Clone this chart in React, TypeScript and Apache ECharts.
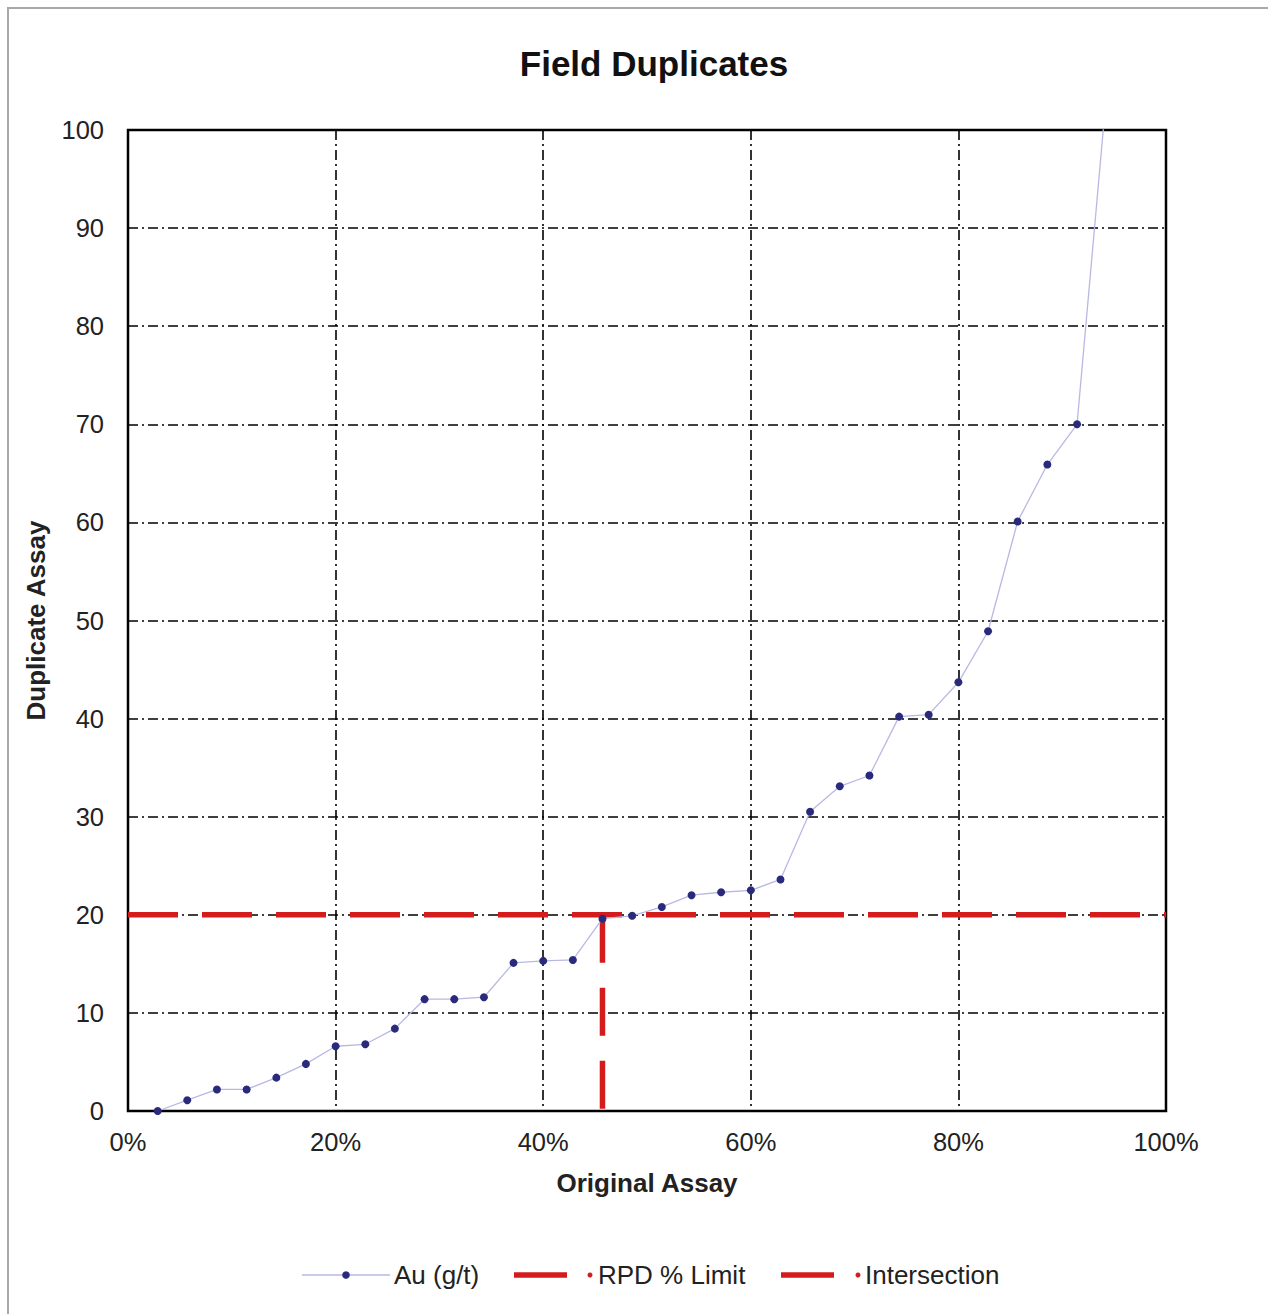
import React, { useEffect, useRef } from "react";
import * as echarts from "echarts";

const titleText = "Field Duplicates";
const xAxisName = "Original Assay";
const yAxisName = "Duplicate Assay";

// Au (g/t) percentile positions (%) and duplicate assay values
const auX = [
  2.86, 5.71, 8.57, 11.43, 14.29, 17.14, 20.0, 22.86, 25.71, 28.57, 31.43,
  34.29, 37.14, 40.0, 42.86, 45.71, 48.57, 51.43, 54.29, 57.14, 60.0, 62.86,
  65.71, 68.57, 71.43, 74.29, 77.14, 80.0, 82.86, 85.71, 88.57, 91.43, 94.29,
];
const auY = [
  0, 1.1, 2.2, 2.2, 3.4, 4.8, 6.6, 6.8, 8.4, 11.4, 11.4, 11.6, 15.1, 15.3,
  15.4, 19.6, 19.9, 20.8, 22.0, 22.3, 22.5, 23.6, 30.5, 33.1, 34.2, 40.2, 40.4,
  43.7, 48.9, 60.1, 65.9, 70.0, 104,
];

// RPD % limit line
const rpdX = [0, 100];
const rpdY = [20, 20];

// Intersection drop line
const interX = [45.71, 45.71];
const interY = [20, 0];

const seriesNames = ["Au (g/t)", "RPD % Limit", "Intersection"];

const FONT = "'Liberation Sans', Arial, sans-serif";
const RED = "#d41c1c";
const AU_LINE = "#b8b8e4";
const AU_DOT = "#2a2a7c";

export default function App() {
  const ref = useRef<HTMLDivElement>(null);

  useEffect(() => {
    document.body.style.margin = "0";
    if (!ref.current) return;
    const chart = echarts.init(ref.current, undefined, { renderer: "svg" });
    const zip = (xs: number[], ys: number[]) => xs.map((x, i) => [x, ys[i]]);

    const ly = 1275;
    const legendText = (x: number, t: string) => ({
      type: "text",
      x,
      y: ly,
      style: {
        text: t,
        fontFamily: FONT,
        fontSize: 26,
        fill: "#222",
        verticalAlign: "middle",
        align: "left",
      },
      silent: true,
    });

    chart.setOption({
      animation: false,
      backgroundColor: "#ffffff",
      textStyle: { fontFamily: FONT },
      title: {
        text: titleText,
        left: 649,
        textAlign: "center",
        top: 41,
        textStyle: {
          fontFamily: FONT,
          fontSize: 35,
          fontWeight: "bold",
          color: "#111",
        },
      },
      graphic: [
        {
          type: "rect",
          shape: { x: 8, y: 8, width: 1300, height: 1400 },
          style: { fill: "none", stroke: "#a8a8a8", lineWidth: 2 },
          silent: true,
          z: -10,
        },
        // legend: Au (g/t)
        {
          type: "line",
          shape: { x1: 302, y1: ly, x2: 390, y2: ly },
          style: { stroke: AU_LINE, lineWidth: 1.5 },
          silent: true,
        },
        {
          type: "circle",
          shape: { cx: 346, cy: ly, r: 3.8 },
          style: { fill: AU_DOT },
          silent: true,
        },
        legendText(394, seriesNames[0]),
        // legend: RPD % Limit
        {
          type: "line",
          shape: { x1: 514, y1: ly, x2: 567, y2: ly },
          style: { stroke: RED, lineWidth: 5.5 },
          silent: true,
        },
        {
          type: "circle",
          shape: { cx: 590, cy: ly, r: 2.5 },
          style: { fill: RED },
          silent: true,
        },
        legendText(598, seriesNames[1]),
        // legend: Intersection
        {
          type: "line",
          shape: { x1: 781, y1: ly, x2: 834, y2: ly },
          style: { stroke: RED, lineWidth: 5.5 },
          silent: true,
        },
        {
          type: "circle",
          shape: { cx: 858, cy: ly, r: 2.5 },
          style: { fill: RED },
          silent: true,
        },
        legendText(865, seriesNames[2]),
      ],
      grid: {
        left: 128,
        top: 130,
        right: 102,
        bottom: 203,
        show: true,
        borderColor: "#000",
        borderWidth: 2.5,
        backgroundColor: "#fff",
        containLabel: false,
      },
      xAxis: {
        type: "value",
        min: 0,
        max: 100,
        interval: 20,
        name: xAxisName,
        nameLocation: "middle",
        nameGap: 59,
        nameTextStyle: {
          fontFamily: FONT,
          fontSize: 26,
          fontWeight: "bold",
          color: "#222",
        },
        axisLine: { show: false },
        axisTick: { show: false },
        axisLabel: {
          formatter: (v: number) => v + "%",
          fontFamily: FONT,
          fontSize: 25.5,
          color: "#222",
          margin: 18,
        },
        splitLine: {
          show: true,
          lineStyle: { color: "#000", width: 1.6, type: [10, 4, 2, 4] },
        },
      },
      yAxis: {
        type: "value",
        min: 0,
        max: 100,
        interval: 10,
        name: yAxisName,
        nameLocation: "middle",
        nameGap: 79,
        nameTextStyle: {
          fontFamily: FONT,
          fontSize: 26,
          fontWeight: "bold",
          color: "#222",
        },
        axisLine: { show: false },
        axisTick: { show: false },
        axisLabel: {
          fontFamily: FONT,
          fontSize: 25.5,
          color: "#222",
          margin: 24,
        },
        splitLine: {
          show: true,
          lineStyle: { color: "#000", width: 1.6, type: [10, 4, 2, 4] },
        },
      },
      series: [
        {
          name: seriesNames[1],
          type: "line",
          data: zip(rpdX, rpdY),
          showSymbol: false,
          symbol: "circle",
          symbolSize: 5,
          itemStyle: { color: RED },
          lineStyle: { color: RED, width: 5.5, type: [50, 24] },
          z: 3,
        },
        {
          name: seriesNames[2],
          type: "line",
          data: zip(interX, interY),
          showSymbol: false,
          symbol: "circle",
          symbolSize: 5,
          itemStyle: { color: RED },
          lineStyle: { color: RED, width: 5.5, type: [48, 25] },
          z: 3,
        },
        {
          name: seriesNames[0],
          type: "line",
          data: zip(auX, auY),
          symbol: "circle",
          symbolSize: 8,
          showSymbol: true,
          clip: true,
          itemStyle: { color: AU_DOT },
          lineStyle: { color: AU_LINE, width: 1.3 },
          z: 5,
        },
      ],
    });
    return () => chart.dispose();
  }, []);

  return <div ref={ref} style={{ width: 1268, height: 1314 }} />;
}
